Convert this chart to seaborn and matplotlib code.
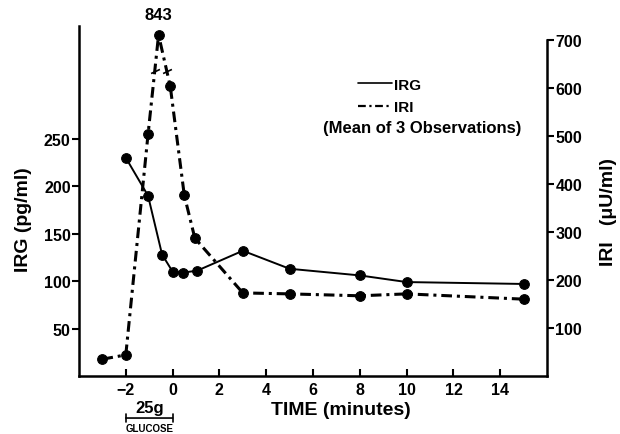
import numpy as np
import matplotlib
matplotlib.use('Agg')
import matplotlib.pyplot as plt
import seaborn as sns
from matplotlib.lines import Line2D

# ---------------------------------------------------------------------------
# Data
# ---------------------------------------------------------------------------
irg_time = [-2, -1.05, -0.45, 0, 0.45, 1.05, 3, 5, 8, 10, 15]
irg_vals = [230, 190, 128, 110, 109, 111, 132, 113, 106, 99, 97]

iri_time = [-3, -2, -1.05, -0.6, -0.1, 0.5, 0.95, 3, 5, 8, 10, 15]
iri_vals = [35, 44, 503, 843, 603, 376, 287, 173, 171, 167, 171, 160]

IRI_BREAK_TOP = 710      # broken axis: peak drawn here, labelled with true value
IRI_BREAK_AT = 635       # where the break slashes sit

x_ticks = [-2, 0, 2, 4, 6, 8, 10, 12, 14]
irg_ticks = [50, 100, 150, 200, 250]
iri_ticks = [100, 200, 300, 400, 500, 600, 700]

DASHDOT = (0, (3.5, 1.6, 1.0, 1.6))

sns.set_theme(style='ticks')
plt.rcParams['font.family'] = ['Liberation Sans', 'DejaVu Sans']
plt.rcParams['font.weight'] = 'bold'
plt.rcParams['text.color'] = 'black'
plt.rcParams['axes.labelcolor'] = 'black'
plt.rcParams['xtick.color'] = 'black'
plt.rcParams['ytick.color'] = 'black'

fig = plt.figure(figsize=(6.2, 4.35), dpi=100)
ax = fig.add_axes([0.1274, 0.1333, 0.755, 0.805])
ax2 = ax.twinx()

iri_plot = np.minimum(iri_vals, IRI_BREAK_TOP)

sns.lineplot(x=irg_time, y=irg_vals, ax=ax, color='black', linewidth=1.4,
             linestyle='-', marker='o', markersize=7,
             markeredgecolor='black', markerfacecolor='black')
sns.lineplot(x=iri_time, y=iri_plot, ax=ax2, color='black', linewidth=2.2,
             linestyle=DASHDOT, marker='o', markersize=7,
             markeredgecolor='black', markerfacecolor='black')

# break slashes on the two segments around the peak
pk = int(np.argmax(iri_vals))
brk_x = []
for a, b in [(pk - 1, pk), (pk, pk + 1)]:
    t = (IRI_BREAK_AT - iri_plot[a]) / (iri_plot[b] - iri_plot[a])
    brk_x.append(iri_time[a] + t * (iri_time[b] - iri_time[a]))
ax2.plot(brk_x, [IRI_BREAK_AT] * 2, linestyle='none', marker=(2, 0, -65),
         markersize=7, markeredgewidth=1.2, color='black')
ax2.annotate(str(iri_vals[pk]), xy=(iri_time[pk], IRI_BREAK_TOP),
             xytext=(0, 9), textcoords='offset points', ha='center',
             va='bottom', fontsize=12, fontweight='bold')

ax.set_xlim(-4, 16)
ax.set_ylim(0, 369)
ax2.set_ylim(0, 729)
ax.set_xticks(x_ticks)
ax.set_yticks(irg_ticks)
ax2.set_yticks(iri_ticks)

for a in (ax, ax2):
    for s in a.spines.values():
        s.set_linewidth(1.8)
        s.set_color('black')
ax.spines['top'].set_visible(False)
ax.spines['right'].set_visible(False)
ax2.spines['top'].set_visible(False)
ax2.spines['left'].set_visible(False)
ax2.spines['bottom'].set_visible(False)
ax2.spines['right'].set_bounds(0, 700)

ax.tick_params(axis='x', direction='in', length=5, width=1.5, labelsize=11.5,
               pad=4)
ax.tick_params(axis='y', direction='out', length=5, width=1.5, labelsize=11.5,
               pad=1)
ax2.tick_params(axis='y', direction='out', length=5, width=1.5, labelsize=11.5,
                pad=1)

ax.set_xlabel('TIME (minutes)', fontsize=14, fontweight='bold')
ax.xaxis.set_label_coords(0.56, -0.072)
ax.set_ylabel('IRG (pg/ml)', fontsize=14, fontweight='bold')
ax.yaxis.set_label_coords(-0.1, 0.45)
ax2.set_ylabel('IRI   (\u03bcU/ml)', fontsize=14, fontweight='bold')
ax2.yaxis.set_label_coords(1.112, 0.47)

# glucose bracket under the axis
tr = ax.get_xaxis_transform()
ax.annotate('', xy=(-2, -0.12), xytext=(0, -0.12), xycoords=tr,
            arrowprops=dict(arrowstyle='|-|', mutation_scale=3, lw=1.2,
                            color='black', shrinkA=0, shrinkB=0),
            annotation_clip=False)
ax.text(-1, -0.112, '25g', transform=tr, ha='center', va='bottom',
        fontsize=12, fontweight='bold')
ax.text(-1, -0.148, 'GLUCOSE', transform=tr, ha='center', va='center',
        fontsize=7, fontweight='bold')

# legend
handles = [Line2D([], [], color='black', linewidth=1.2),
           Line2D([], [], color='black', linewidth=1.6, linestyle=DASHDOT)]
leg = ax.legend(handles, ['IRG', 'IRI'], loc='upper left',
                bbox_to_anchor=(0.596, 0.852), frameon=False, fontsize=11,
                handlelength=2.2, handletextpad=0.15, labelspacing=0.55,
                borderpad=0, borderaxespad=0)
for t in leg.get_texts():
    t.set_fontweight('bold')
ax.text(0.733, 0.709, '(Mean of 3 Observations)', transform=ax.transAxes,
        ha='center', va='center', fontsize=12, fontweight='bold')

fig.savefig('out.png', dpi=100)
